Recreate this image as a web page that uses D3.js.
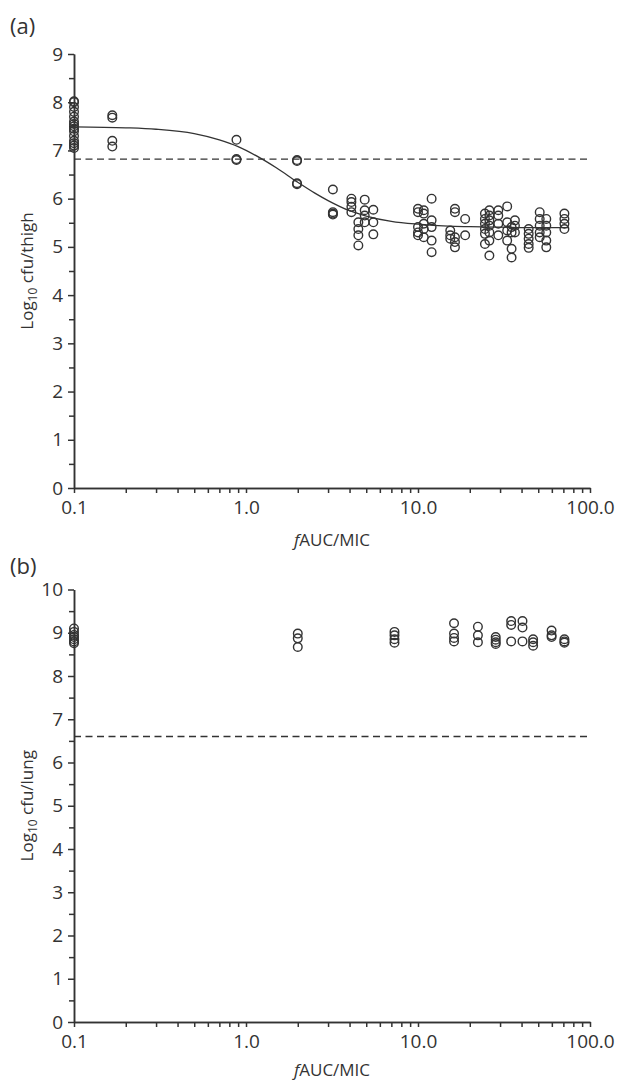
<!DOCTYPE html>
<html>
<head>
<meta charset="utf-8">
<script src="https://cdn.jsdelivr.net/npm/d3@7"></script>
<style>
  body { margin: 0; background: #fff; }
  text { font-family: "Open Sans", "Noto Sans", sans-serif; fill: #333; }
</style>
</head>
<body>
<script>
// panel (a) thigh data: x (fAUC/MIC) per column and the log10 cfu values in it
const thighX = [0.1, 0.167, 0.88, 1.98, 3.2, 4.1, 4.5, 4.9, 5.5, 10.0, 10.8, 12, 15.4, 16.4, 18.8, 24.5, 26, 29.3, 33, 35, 36.6, 44, 51, 55.7, 71]
const thighY = [
  [7.05, 7.1, 7.15, 7.2, 7.3, 7.4, 7.45, 7.5, 7.55, 7.6, 7.7, 7.8, 7.9, 8.0, 8.02],
  [7.73, 7.68, 7.2, 7.08],
  [7.22, 6.8, 6.82],
  [6.78, 6.8, 6.32, 6.3],
  [6.19, 5.72, 5.69, 5.67],
  [6.0, 5.93, 5.83, 5.72],
  [5.51, 5.37, 5.24, 5.03],
  [5.98, 5.76, 5.65, 5.51],
  [5.77, 5.51, 5.26],
  [5.79, 5.72, 5.41, 5.30, 5.24],
  [5.76, 5.69, 5.48, 5.37, 5.2],
  [6.0, 5.55, 5.41, 5.13, 4.89],
  [5.34, 5.24, 5.17],
  [5.79, 5.72, 5.2, 5.1, 4.99],
  [5.58, 5.24],
  [5.69, 5.58, 5.48, 5.37, 5.27, 5.06],
  [5.76, 5.65, 5.55, 5.44, 5.3, 5.13, 4.82],
  [5.76, 5.65, 5.48, 5.24],
  [5.84, 5.51, 5.34, 5.13],
  [5.41, 5.3, 4.96, 4.78],
  [5.55, 5.44, 5.3],
  [5.37, 5.27, 5.17, 5.06, 4.98],
  [5.72, 5.58, 5.44, 5.3, 5.2],
  [5.58, 5.44, 5.3, 5.13, 4.99],
  [5.69, 5.58, 5.48, 5.37]
]
// fitted curve
const fitX = [0.1, 0.2, 0.3, 0.5, 0.7, 0.9, 1.2, 1.5, 2, 2.5, 3, 4, 5, 7, 10, 15, 20, 30, 50, 75]
const fitY = [7.49, 7.47, 7.44, 7.35, 7.22, 7.08, 6.85, 6.64, 6.34, 6.12, 5.96, 5.75, 5.64, 5.53, 5.47, 5.43, 5.42, 5.41, 5.40, 5.40]
const thighStasis = 6.82

// panel (b) lung data
const lungX = [0.1, 2.0, 7.3, 16.2, 22.3, 28.3, 34.8, 40.5, 46.7, 59.8, 71]
const lungY = [
  [9.1, 9.02, 8.95, 8.9, 8.85, 8.8, 8.76],
  [8.98, 8.87, 8.67],
  [9.02, 8.94, 8.85, 8.77],
  [9.22, 8.98, 8.88, 8.8],
  [9.14, 8.94, 8.78],
  [8.9, 8.84, 8.78, 8.74],
  [9.27, 9.18, 8.8],
  [9.27, 9.12, 8.8],
  [8.85, 8.78, 8.7],
  [9.05, 8.94, 8.9],
  [8.85, 8.8, 8.77]
]
const lungStasis = 6.6

const xMajor = [0.1, 1, 10, 100]
const xMajorLabels = ["0.1", "1.0", "10.0", "100.0"]
const xMinor = [0.2, 0.3, 0.4, 0.5, 0.6, 0.7, 0.8, 0.9, 2, 3, 4, 5, 6, 7, 8, 9, 20, 30, 40, 50, 60, 70, 80, 90]

const w = 619
const h = 1084
const ink = "#333"

const svg = d3.select("body").append("svg")
  .attr("width", w)
  .attr("height", h)

function drawPanel(opt) {
  const xScale = d3.scaleLog().domain([0.1, 100]).range([74, 590])
  const yScale = d3.scaleLinear().domain([0, opt.yMax]).range([opt.bottom, opt.top])
  const g = svg.append("g")

  // points
  const pts = []
  opt.xs.forEach((x, i) => opt.ys[i].forEach(y => pts.push([x, y])))
  g.selectAll("circle").data(pts).enter().append("circle")
    .attr("cx", d => xScale(d[0]))
    .attr("cy", d => yScale(d[1]))
    .attr("r", 4.3)
    .attr("fill", "none")
    .attr("stroke", ink)
    .attr("stroke-width", 1.4)

  // stasis line
  g.append("line")
    .attr("x1", xScale(0.1)).attr("x2", xScale(100))
    .attr("y1", yScale(opt.stasis)).attr("y2", yScale(opt.stasis))
    .attr("stroke", ink).attr("stroke-width", 1.4)
    .attr("stroke-dasharray", "7,4.5")

  if (opt.fitX) {
    const line = d3.line().curve(d3.curveMonotoneX)
      .x((d, i) => xScale(opt.fitX[i]))
      .y(d => yScale(d))
    g.append("path").attr("d", line(opt.fitY))
      .attr("fill", "none").attr("stroke", ink).attr("stroke-width", 1.3)
  }

  // y axis: minor then major
  const yMinor = d3.range(0.5, opt.yMax, 1)
  g.append("g").attr("transform", "translate(74,0)")
    .call(d3.axisLeft(yScale).tickValues(yMinor).tickSize(5).tickSizeOuter(0).tickFormat(""))
  g.append("g").attr("transform", "translate(74,0)")
    .call(d3.axisLeft(yScale).tickValues(d3.range(0, opt.yMax + 1)).tickSize(6).tickSizeOuter(0).tickPadding(5).tickFormat(d3.format("d")))

  // x axis
  g.append("g").attr("transform", "translate(0," + opt.bottom + ")")
    .call(d3.axisBottom(xScale).tickValues(xMinor).tickSize(5).tickSizeOuter(0).tickFormat(""))
  g.append("g").attr("transform", "translate(0," + opt.bottom + ")")
    .call(d3.axisBottom(xScale).tickValues(xMajor).tickSize(5).tickSizeOuter(0).tickPadding(8)
      .tickFormat((d, i) => xMajorLabels[i]))

  g.selectAll(".domain, .tick line").attr("stroke", ink).attr("stroke-width", 1.5)
  g.selectAll(".tick text").attr("font-size", 19).attr("fill", ink)
    .style("font-family", "'Open Sans', 'Noto Sans', sans-serif")

  // titles
  const xt = g.append("text")
    .attr("x", 332).attr("y", opt.bottom + opt.xTitleDy)
    .attr("text-anchor", "middle").attr("font-size", 17)
  xt.append("tspan").attr("font-style", "italic").text("f")
  xt.append("tspan").text("AUC/MIC")

  const yt = g.append("text")
    .attr("transform", "translate(33," + ((opt.top + opt.bottom) / 2) + ") rotate(-90)")
    .attr("text-anchor", "middle").attr("font-size", 17)
  yt.append("tspan").text("Log")
  yt.append("tspan").attr("font-size", 12).attr("dy", 4).text("10")
  yt.append("tspan").attr("dy", -4).text(" " + opt.yTitle)

  svg.append("text").attr("x", 10).attr("y", opt.labelY)
    .attr("font-size", 22).text(opt.label)
}

drawPanel({ xs: thighX, ys: thighY, fitX: fitX, fitY: fitY, stasis: thighStasis,
  yMax: 9, top: 54, bottom: 488, xTitleDy: 58, yTitle: "cfu/thigh", label: "(a)", labelY: 34 })
drawPanel({ xs: lungX, ys: lungY, stasis: lungStasis,
  yMax: 10, top: 589.5, bottom: 1022, xTitleDy: 54, yTitle: "cfu/lung", label: "(b)", labelY: 574 })
</script>
</body>
</html>
